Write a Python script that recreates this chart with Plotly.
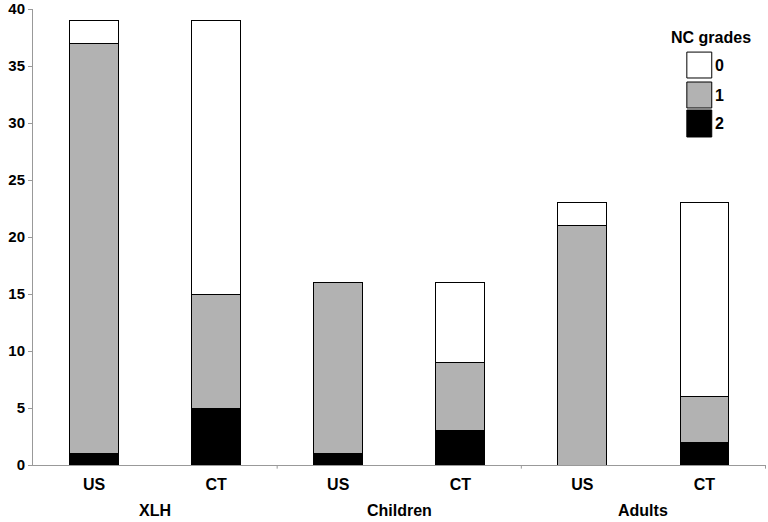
import plotly.graph_objects as go

groups = ["XLH", "XLH", "Children", "Children", "Adults", "Adults"]
methods = ["US", "CT", "US", "CT", "US", "CT"]
grade2 = [1, 5, 1, 3, 0, 2]
grade1 = [36, 10, 15, 6, 21, 4]
grade0 = [2, 24, 0, 7, 2, 17]
grade_names = ["0", "1", "2"]
grade_colors = ["#ffffff", "#b2b2b2", "#000000"]

FONT = "Liberation Sans, Arial, sans-serif"

xkeys = [g + " " + m for g, m in zip(groups, methods)]

fig = go.Figure()
for name, vals, col in [("2", grade2, "#000000"), ("1", grade1, "#b2b2b2"), ("0", grade0, "#ffffff")]:
    fig.add_trace(go.Bar(
        x=xkeys, y=vals, name=name,
        marker=dict(color=col, line=dict(color="#000000", width=1)),
        showlegend=False,
    ))

fig.update_layout(
    barmode="stack", bargap=0.6,
    width=768, height=522,
    margin=dict(l=33, r=2, t=9, b=57, autoexpand=False),
    paper_bgcolor="white", plot_bgcolor="white",
    font=dict(family=FONT, size=16, color="black"),
)
fig.update_yaxes(
    range=[0, 40.0001], tickvals=[0, 5, 10, 15, 20, 25, 30, 35, 40],
    showgrid=False, zeroline=False, automargin=False,
    showline=True, linecolor="#999999", linewidth=1,
    ticks="outside", ticklen=4, tickcolor="#999999",
    ticklabeloverflow="allow",
    tickfont=dict(family=FONT, size=15, color="black", weight="bold"),
)
fig.update_xaxes(
    type="category", categoryorder="array", categoryarray=xkeys,
    tickvals=xkeys, ticktext=methods, automargin=False,
    showgrid=False, showline=True, linecolor="#999999", linewidth=1,
    ticks="", ticklabelstandoff=5,
    tickfont=dict(family=FONT, size=16, color="black", weight="bold"),
)

# group labels and separator ticks
seen = []
for g in groups:
    if g not in seen:
        seen.append(g)
for g in seen:
    idx = [i for i, gg in enumerate(groups) if gg == g]
    mid = (idx[0] + idx[-1]) / 2
    fig.add_annotation(xref="x", yref="paper", x=mid, y=0, yshift=-45,
                       text="<b>" + g + "</b>", showarrow=False,
                       font=dict(family=FONT, size=16, color="black"),
                       xanchor="center", yanchor="middle")
    end = idx[-1] + 0.5
    fig.add_shape(type="line", xref="x", yref="paper", x0=end, x1=end, y0=0, y1=-0.008,
                  line=dict(color="#999999", width=1))

# custom legend
fig.add_annotation(xref="paper", yref="paper", x=0.925, y=0.9385, text="<b>NC grades</b>",
                   showarrow=False, font=dict(family=FONT, size=16, color="black"),
                   xanchor="center", yanchor="middle")
box_x0, box_x1 = 0.892, 0.926
boxes = [(0.9055, 0.8487), (0.8399, 0.7829), (0.7785, 0.7193)]
for name, col, (top, bot) in zip(grade_names, grade_colors, boxes):
    fig.add_shape(type="rect", xref="paper", yref="paper", x0=box_x0, x1=box_x1,
                  y0=bot, y1=top, fillcolor=col, line=dict(color="#000000", width=1))
    fig.add_annotation(xref="paper", yref="paper", x=box_x1 + 0.002, y=(top + bot) / 2,
                       text="<b>" + name + "</b>", showarrow=False,
                       font=dict(family=FONT, size=16, color="black"),
                       xanchor="left", yanchor="middle")

fig.write_html("out.html", config={"displayModeBar": False},
               post_script="document.body.style.margin='0';")
